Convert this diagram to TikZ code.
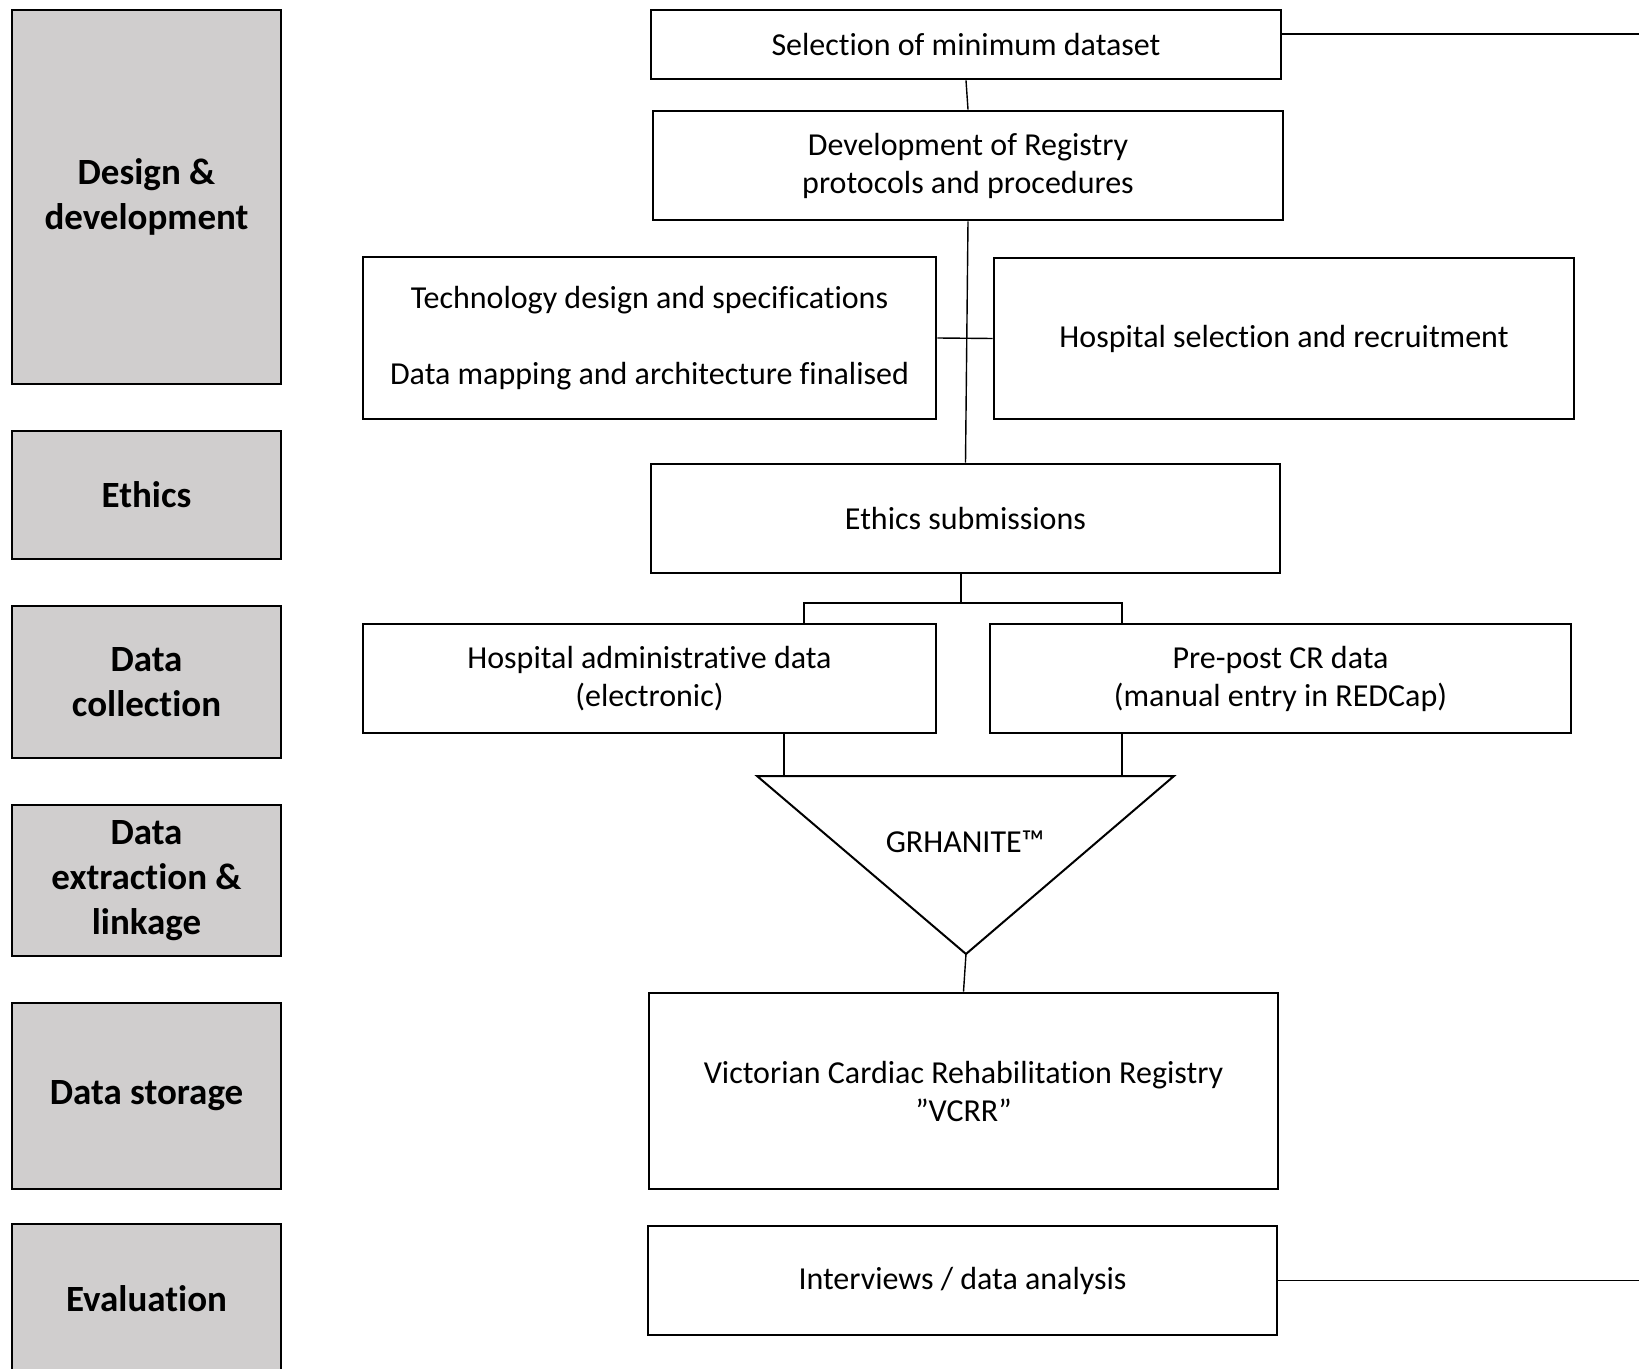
\documentclass[tikz,border=0pt]{standalone}
\usepackage{fontspec}
\setmainfont{Carlito}[RawFeature={-liga;-clig;-calt;-dlig}]
\usetikzlibrary{positioning,calc}
\definecolor{ink}{HTML}{000000}
\definecolor{phase}{HTML}{D0CECE}

\begin{document}
\begin{tikzpicture}[x=0.5pt,y=-0.5pt,
  phasebox/.style={draw=ink,line width=1.25pt,fill=phase,minimum width=134.5pt,
    inner sep=0pt,align=center,font=\fontsize{18.5}{22.5}\selectfont\bfseries},
  stepbox/.style={draw=ink,line width=1.4pt,fill=white,inner sep=0pt,
    align=center,font=\fontsize{16}{19}\selectfont},
  link/.style={draw=ink,line width=0.7pt}]
\useasboundingbox (0,0) rectangle (1639,1369);
% --- phases down the left side ---------------------------------------
\foreach \nm/\yc/\h/\lab in {des/197/187/{Design \&\\development}, eth/495/64/Ethics,
                             col/682/76/{Data\\collection}, ext/880.5/75.5/{Data\\extraction \&\\linkage},
                             sto/1096/93/{Data storage}, eva/1299/75/Evaluation} {
  \node[phasebox,minimum height=\h pt] (\nm) at (146.5,\yc) {\lab};
}
% --- steps -----------------------------------------------------------
\node[stepbox,minimum width=315pt,minimum height=34.5pt] (sel) at (966,44.5) {Selection of minimum dataset};
\node[stepbox,minimum width=315pt,minimum height=54.5pt] (dev) at (968,165.5) {Development of Registry\\protocols and procedures};
\node[stepbox,minimum width=286.5pt,minimum height=81pt] (tech) at (649.5,338)
  {Technology design and specifications\\[19pt]Data mapping and architecture finalised};
\node[stepbox,minimum width=290pt,minimum height=80.5pt] (hosp) at (1284,338.5) {Hospital selection and recruitment};
\node[stepbox,minimum width=314.5pt,minimum height=54.5pt] (ethsub) at (965.5,518.5) {Ethics submissions};
\node[stepbox,minimum width=286.5pt,minimum height=54.5pt] (adm) at (649.5,678.5) {Hospital administrative data\\(electronic)};
\node[stepbox,minimum width=290.5pt,minimum height=54.5pt] (pre) at (1280.5,678.5) {Pre-post CR data\\(manual entry in REDCap)};
\node[stepbox,minimum width=314.5pt,minimum height=98pt] (vcrr) at (963.5,1091) {Victorian Cardiac Rehabilitation Registry\\”VCRR”};
\node[stepbox,minimum width=314.5pt,minimum height=54.5pt] (intv) at (962.5,1280.5) {Interviews / data analysis};
% --- funnel ------------------------------------------------------------
\coordinate (tl) at (757,776);
\coordinate (tr) at (1174,776);
\coordinate (tip) at (966,954);
\draw[ink,line width=1pt,line join=miter] (tl) -- (tr) -- (tip) -- cycle;
\node[font=\fontsize{16}{19}\selectfont] (grh) at (965,842) {GRHANITE™};
% --- connectors ------------------------------------------------------
\coordinate (selout) at (1639,34);
\coordinate (intout) at (1639,1280.5);
\coordinate (split) at (961,603);
\coordinate (brl) at (804,603);
\coordinate (brr) at (1122,603);
\coordinate (inl) at (784,776);
\coordinate (inr) at (1122,776);
\draw[link] (sel.east |- selout) -- (selout);
\draw[link] (sel.south) -- (dev.north);
\draw[link] (dev.south) -- (ethsub.north);
\draw[link] (tech.east) -- (hosp.west);
\draw[link] (ethsub.south -| split) -- (split);
\draw[link] (brl |- adm.north) -- (brl) -- (brr) -- (brr |- pre.north);
\draw[link] (adm.south -| inl) -- (inl);
\draw[link] (pre.south -| inr) -- (inr);
\draw[link] (tip) -- (vcrr.north);
\draw[link] (intv.east) -- (intout);
\end{tikzpicture}
\end{document}
